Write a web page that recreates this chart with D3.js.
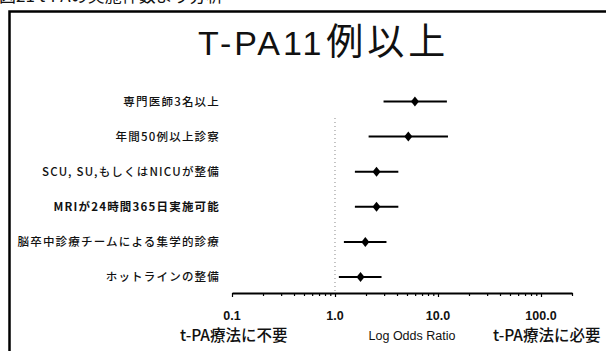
<!DOCTYPE html>
<html>
<head>
<meta charset="utf-8">
<script src="https://cdn.jsdelivr.net/npm/d3@7"></script>
<style>
  html, body { margin: 0; padding: 0; background: #fff; }
  svg { display: block; }
  text { font-family: "Liberation Sans", "Noto Sans CJK JP", sans-serif; fill: #111; }
  .jp { font-family: "Noto Sans CJK JP", "Liberation Sans", sans-serif; }
</style>
</head>
<body>
<svg id="chart" width="606" height="351"></svg>
<script>
// Factors associated with 11+ t-PA cases: odds ratios with 95% CI
const factors = [
  "専門医師3名以上",
  "年間50例以上診察",
  "SCU, SU,もしくはNICUが整備",
  "MRIが24時間365日実施可能",
  "脳卒中診療チームによる集学的診療",
  "ホットラインの整備"
];
const oddsRatio = [5.97, 5.15, 2.53, 2.53, 1.97, 1.77];
const ciLow     = [2.96, 2.12, 1.56, 1.56, 1.22, 1.09];
const ciHigh    = [12.2, 12.5, 4.12, 4.12, 3.16, 2.83];
const boldFactor = ["MRIが24時間365日実施可能"];

const tickValues = [0.1, 1, 10, 100];
const tickLabels = ["0.1", "1.0", "10.0", "100.0"];
const minorTicks = [];
[0.1, 1, 10, 100].forEach(d => { for (let k = 2; k <= 9; k++) { const v = d * k; if (v <= 200) minorTicks.push(v); } });

const svg = d3.select("#chart");

// frame (left and top rules)
svg.append("path")
  .attr("d", "M9.5,351 L9.5,11.5 L606,11.5")
  .attr("fill", "none").attr("stroke", "#000").attr("stroke-width", 2.5);

// figure caption, running off the top of the page
svg.append("text").attr("class", "jp")
  .attr("x", -1).attr("y", 2)
  .attr("font-size", 17)
  .text("図21 t-PAの実施件数より分析");

// chart title
const title = svg.append("text")
  .attr("x", 198).attr("y", 55)
  .attr("font-size", 34).attr("letter-spacing", 3);
title.append("tspan").text("T-PA11");
title.append("tspan").attr("class", "jp").attr("font-size", 37).attr("letter-spacing", 4).attr("dx", 2).text("例以上");

const x = d3.scaleLog().domain([0.1, 200]).range([232, 572]);
const y = d3.scalePoint().domain(factors).range([101.5, 277]);
const axisY = 293;

// reference line at OR = 1
svg.append("line")
  .attr("x1", x(1)).attr("x2", x(1))
  .attr("y1", 118).attr("y2", axisY)
  .attr("stroke", "#888").attr("stroke-width", 1)
  .attr("stroke-dasharray", "1,3");

// axis
const ax = svg.append("g").attr("transform", `translate(0,${axisY})`);
ax.call(d3.axisBottom(x).tickValues(tickValues).tickFormat("").tickSize(4).tickSizeOuter(0));
ax.append("g").call(d3.axisBottom(x).tickValues(minorTicks).tickFormat("").tickSize(3).tickSizeOuter(0))
  .select(".domain").remove();
ax.selectAll(".domain").attr("stroke", "#000").attr("stroke-width", 2);
ax.selectAll(".tick line").attr("stroke", "#000").attr("stroke-width", 1.2);

svg.selectAll(".ticklab").data(tickValues).join("text")
  .attr("class", "ticklab")
  .attr("x", d => x(d)).attr("y", 320)
  .attr("text-anchor", "middle")
  .attr("font-size", 12.5).attr("font-weight", 600)
  .text((d, i) => tickLabels[i]);

svg.append("text")
  .attr("x", 412).attr("y", 340)
  .attr("text-anchor", "middle")
  .attr("font-size", 12.5).attr("font-weight", 500)
  .text("Log Odds Ratio");

svg.append("text").attr("class", "jp")
  .attr("x", 180).attr("y", 341)
  .attr("font-size", 15.5).attr("font-weight", 500)
  .text("t-PA療法に不要");
svg.append("text").attr("class", "jp")
  .attr("x", 493).attr("y", 341)
  .attr("font-size", 15.5).attr("font-weight", 500)
  .text("t-PA療法に必要");

// factor labels
svg.selectAll(".flab").data(factors).join("text")
  .attr("class", "flab jp")
  .attr("x", 220).attr("y", d => y(d))
  .attr("dy", "0.36em")
  .attr("text-anchor", "end")
  .attr("font-size", 11.5).attr("letter-spacing", 1.2)
  .attr("font-weight", d => boldFactor.includes(d) ? 700 : 500)
  .text(d => d);

// confidence intervals
svg.selectAll(".ci").data(factors).join("line")
  .attr("class", "ci")
  .attr("x1", (d, i) => x(ciLow[i])).attr("x2", (d, i) => x(ciHigh[i]))
  .attr("y1", d => y(d)).attr("y2", d => y(d))
  .attr("stroke", "#000").attr("stroke-width", 2);

// point estimates as diamonds
const diamond = (cx, cy) => {
  const p = d3.path();
  p.moveTo(cx, cy - 5); p.lineTo(cx + 4, cy); p.lineTo(cx, cy + 5); p.lineTo(cx - 4, cy); p.closePath();
  return p.toString();
};
svg.selectAll(".pt").data(factors).join("path")
  .attr("class", "pt")
  .attr("d", (d, i) => diamond(x(oddsRatio[i]), y(d)))
  .attr("fill", "#000");
</script>
</body>
</html>
